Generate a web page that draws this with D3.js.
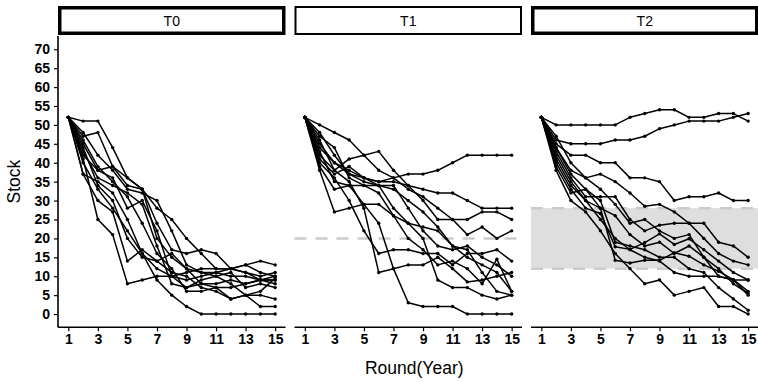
<!DOCTYPE html>
<html>
<head>
<meta charset="utf-8">
<script src="https://cdn.jsdelivr.net/npm/d3@7"></script>
<style>
  body { margin: 0; background: #fff; }
  text { font-family: "Liberation Sans", Arial, sans-serif; fill: #000; }
</style>
</head>
<body>
<div id="chart"></div>
<script>
// rounds (x) and facet names
const rounds = [1, 2, 3, 4, 5, 6, 7, 8, 9, 10, 11, 12, 13, 14, 15];
const treatments = ["T0", "T1", "T2"];
const xTicks = [1, 3, 5, 7, 9, 11, 13, 15];
const yTicks = [0, 5, 10, 15, 20, 25, 30, 35, 40, 45, 50, 55, 60, 65, 70];

// stock per group, one row per group
const stockT0 = [
  [52, 51, 51, 44, 36, 33, 28, 25, 20, 16, 12, 12, 13, 14, 13],
  [52, 47, 48, 39, 34, 33, 24, 17, 16, 17, 16, 12, 11, 9, 9],
  [52, 48, 42, 38, 33, 32, 30, 22, 13, 11, 11, 12, 11, 10, 11],
  [52, 37, 35, 32, 25, 16, 12, 10, 9, 10, 11, 10, 10, 9, 10],
  [52, 42, 38, 39, 36, 33, 20, 15, 12, 8, 8, 9, 8, 9, 9],
  [52, 44, 34, 30, 20, 15, 14, 16, 12, 11, 10, 11, 7, 8, 7],
  [52, 40, 33, 28, 22, 16, 9, 5, 2, 0, 0, 0, 0, 0, 0],
  [52, 37, 30, 27, 14, 17, 14, 11, 10, 7, 6, 4, 5, 2, 2],
  [52, 45, 38, 36, 28, 30, 22, 10, 7, 9, 10, 8, 5, 5, 4],
  [52, 41, 25, 21, 8, 9, 10, 10, 11, 12, 12, 12, 13, 11, 10],
  [52, 46, 39, 35, 31, 24, 16, 12, 6, 6, 7, 7, 8, 9, 8],
  [52, 43, 36, 34, 32, 29, 18, 8, 7, 8, 7, 4, 5, 6, 9.5]
];
const stockT1 = [
  [52, 45, 40, 37, 36, 35, 36, 37, 37, 38, 40, 42, 42, 42, 42],
  [52, 50, 48, 46, 42, 43, 38, 34, 33, 32, 32, 30, 28, 28, 28],
  [52, 44, 40, 38, 36, 35, 35, 34, 30, 25, 25, 25, 27, 27, 25],
  [52, 42, 38, 41, 42, 38, 36, 33, 31, 28, 25, 21, 23, 20, 22],
  [52, 38, 27, 28, 29, 29, 26, 24, 23, 22, 18, 15, 13, 11, 6],
  [52, 40, 36, 30, 22, 16, 17, 17, 16, 16, 13, 16, 16, 17, 14],
  [52, 43, 35, 34, 29, 24, 12, 3, 2, 2, 2, 0, 0, 0, 0],
  [52, 46, 38, 35, 28, 11, 12, 13, 13, 15, 12, 8.5, 9, 10, 11],
  [52, 48, 42, 37, 35, 34, 28, 24, 20, 9, 7, 7, 5, 4, 5],
  [52, 39, 33, 34, 34, 32, 26, 20, 17, 13, 14, 12, 8, 14.5, 6],
  [52, 47, 44, 36, 34, 34, 33, 30, 27, 23, 18, 17, 11, 6, 5],
  [52, 41, 37, 39, 36, 34, 34, 28, 22, 18, 17, 18, 15, 13, 10]
];
const stockT2 = [
  [52, 50, 50, 50, 50, 50, 52, 53, 54, 54, 52, 52, 53, 53, 51],
  [52, 46, 45, 45, 45, 46, 46, 47, 49, 50, 51, 51, 51, 52, 53],
  [52, 45, 42, 42, 40, 40, 36, 36, 35, 30, 31, 31, 32, 30, 30],
  [52, 44, 38, 36, 37, 35, 32, 28.5, 29, 27, 24, 24, 19, 18, 15],
  [52, 43, 36, 31, 31, 31, 25, 22, 23.5, 24, 24, 20, 16, 14, 13],
  [52, 40, 33, 28, 26.6, 17.8, 17.1, 18.9, 21.2, 18.4, 19.9, 17, 14, 11, 9],
  [52, 42, 35, 30, 28, 14.2, 13.5, 14.2, 14.2, 16.2, 15.3, 13, 11.3, 9.1, 6],
  [52, 38, 30, 27, 22, 16, 12, 8, 9, 5, 6, 7, 2, 2, 0],
  [52, 41, 34, 30, 25, 20, 17, 15, 14, 11, 10, 10, 10, 9, 9],
  [52, 39, 32, 33, 30, 19, 18, 17, 15, 15, 12, 11, 7, 4, 1],
  [52, 44, 37, 33, 28, 26, 21, 18, 19, 16, 18, 15, 10, 9, 5],
  [52, 47, 40, 36, 33, 29, 24, 25, 22, 20, 21, 15, 12, 8, 5.5]
];
const stockByTreatment = [stockT0, stockT1, stockT2];

// reference marks: T1 target line, T2 target band
const targetT1 = 20;
const bandT2 = [12, 28];

const W = 758, H = 382;
const margin = { left: 58, top: 36, bottom: 327.3 };
const panelW = 227.5, gap = 9;

const svg = d3.select('#chart').append('svg')
  .attr('width', W)
  .attr('height', H);

const y = d3.scaleLinear().domain([-3.5, 73.5]).range([margin.bottom, margin.top]);

treatments.forEach(function (t, k) {
  const left = margin.left + k * (panelW + gap);
  const x = d3.scaleLinear().domain([0.3, 15.7]).range([left, left + panelW]);
  const g = svg.append('g');

  // strip, T0 and T2 get the heavy frame
  const sw = t !== 'T1' ? 3.5 : 2;
  g.append('rect')
    .attr('x', left + sw / 2)
    .attr('y', 6 + sw / 2)
    .attr('width', panelW - sw)
    .attr('height', 29 - sw)
    .attr('fill', '#fff')
    .attr('stroke', '#000')
    .attr('stroke-width', sw);
  g.append('text')
    .attr('x', left + panelW / 2)
    .attr('y', 21)
    .attr('dy', '0.35em')
    .attr('text-anchor', 'middle')
    .style('font-size', '14px')
    .text(t);

  // targets
  if (t === 'T1') {
    g.append('line')
      .attr('x1', left).attr('x2', left + panelW)
      .attr('y1', y(targetT1)).attr('y2', y(targetT1))
      .attr('stroke', '#cbcbcb').attr('stroke-width', 2.5)
      .attr('stroke-dasharray', '12,9');
  }
  if (t === 'T2') {
    g.append('rect')
      .attr('x', left).attr('width', panelW)
      .attr('y', y(bandT2[1])).attr('height', y(bandT2[0]) - y(bandT2[1]))
      .attr('fill', '#dedede');
    bandT2.forEach(v => {
      g.append('line')
        .attr('x1', left).attr('x2', left + panelW)
        .attr('y1', y(v)).attr('y2', y(v))
        .attr('stroke', '#cbcbcb').attr('stroke-width', 2.5)
        .attr('stroke-dasharray', '12,9');
    });
  }

  // series
  const path = d3.line()
    .x((d, i) => x(rounds[i]))
    .y(d => y(d));
  const series = stockByTreatment[k];
  g.selectAll('path.series')
    .data(series)
    .enter().append('path')
    .attr('class', 'series')
    .attr('d', path)
    .attr('fill', 'none')
    .attr('stroke', '#000')
    .attr('stroke-width', 1.5)
    .attr('stroke-linejoin', 'round');
  series.forEach(s => {
    g.selectAll(null)
      .data(s)
      .enter().append('circle')
      .attr('cx', (d, i) => x(rounds[i]))
      .attr('cy', d => y(d))
      .attr('r', 1.7)
      .attr('fill', '#000');
  });

  // x axis
  const xAxis = d3.axisBottom(x).tickValues(xTicks).tickSize(4).tickPadding(3);
  const ax = g.append('g')
    .attr('transform', 'translate(0,' + margin.bottom + ')')
    .call(xAxis);
  ax.select('.domain').attr('stroke-width', 1.6).attr('d', 'M' + left + ',0H' + (left + panelW));
  ax.selectAll('.tick line').attr('stroke-width', 1.2);
  ax.selectAll('text').style('font-size', '14px').style('font-weight', 'bold');

  // y axis on the first panel only
  if (k === 0) {
    const yAxis = d3.axisLeft(y).tickValues(yTicks).tickSize(4).tickPadding(4);
    const ay = g.append('g')
      .attr('transform', 'translate(' + left + ',0)')
      .call(yAxis);
    ay.select('.domain').attr('stroke-width', 1.6).attr('d', 'M0,' + margin.top + 'V' + margin.bottom);
    ay.selectAll('.tick line').attr('stroke-width', 1.2);
    ay.selectAll('text').style('font-size', '14px').style('font-weight', 'bold');
  }
});

// axis titles
svg.append('text')
  .attr('x', margin.left + (3 * panelW + 2 * gap) / 2 + 6)
  .attr('y', 374)
  .attr('text-anchor', 'middle')
  .style('font-size', '17.5px')
  .text('Round(Year)');
svg.append('text')
  .attr('transform', 'translate(20,' + ((margin.top + margin.bottom) / 2) + ') rotate(-90)')
  .attr('text-anchor', 'middle')
  .style('font-size', '17.5px')
  .text('Stock');
</script>
</body>
</html>
